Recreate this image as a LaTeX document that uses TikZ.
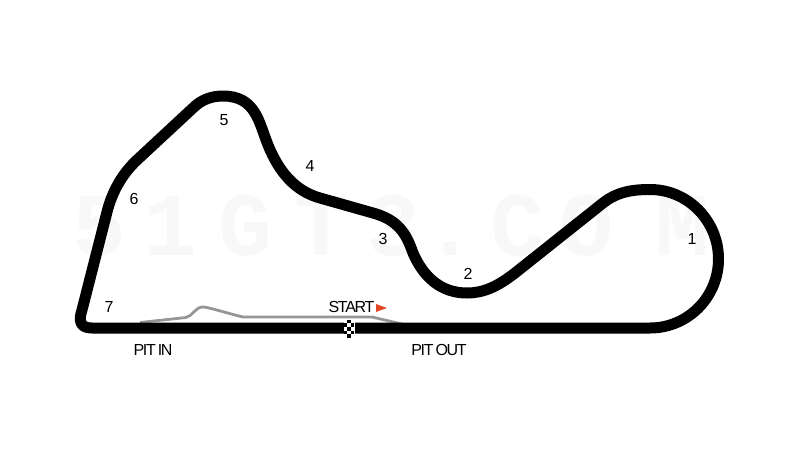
\documentclass[tikz,border=0pt]{standalone}
\usepackage{fontspec}
\setmainfont{Liberation Sans}
\newfontfamily\tightfont[LetterSpace=-8,WordSpace=0.6]{Liberation Sans}
\newfontfamily\markfont{Liberation Mono}
\definecolor{flagred}{RGB}{226,72,38}
\definecolor{pitgray}{RGB}{150,150,150}
\definecolor{markgray}{RGB}{248,248,248}
\tikzset{
	turnlabel/.style={font=\fontsize{16}{16}\selectfont,inner sep=0pt},
	textlabel/.style={font=\tightfont\fontsize{16}{16}\selectfont,inner sep=0pt},
	marklabel/.style={font=\markfont\fontsize{90}{90}\selectfont\bfseries,text=markgray,inner sep=0pt,anchor=base}
}
\begin{document}
\begin{tikzpicture}[x=1pt,y=-1pt]
	\useasboundingbox (0,0) rectangle (800,450);

	% The mark behind the track
	\foreach \ch/\xx/\nm in {5/100/a,1/171/b,G/246/c,T/322/d,3/393/e,./450/f,C/517/g,O/586/h,M/682/i}
	{
		\node[marklabel] (mark\nm) at (\xx,255) {\ch};
	}

	% The pit lane
	\draw[pitgray,line width=2.8pt,line join=round] (140,322.5) -- (186,317.5) .. controls (193,316) and (195,307) .. (203,307) .. controls (208,307) and (230,314) .. (243,317) -- (372,317) -- (406,325);

	% The track
	\draw[black,line width=11pt,line join=round] (92,328) -- (650,328)
		.. controls (688,328) and (718.5,297) .. (718.5,259)
		.. controls (718.5,221) and (688,189.5) .. (650,189.5)
		.. controls (632,189.5) and (617,192) .. (603,203)
		-- (515,273)
		.. controls (497,287) and (483,293) .. (467,293)
		.. controls (440,293) and (423,276) .. (413,253)
		.. controls (406,233) and (398,220) .. (373,213)
		-- (320,198)
		.. controls (295,191) and (279,172) .. (268,145)
		.. controls (259,123) and (256,96) .. (223,96)
		.. controls (211,96) and (201,100) .. (193,108)
		-- (137,160)
		.. controls (122,174) and (112,192) .. (107,212)
		-- (82,310)
		.. controls (78,322) and (81,328) .. (92,328) -- cycle;

	% The flag on the line
	\fill[white] (343.5,319) rectangle (354.5,338.5);
	\foreach \col/\row in {1/0,0/1,2/1,1/2,0/3,2/3,1/4}
	{
		\fill[black] (343.9+\col*3.4,319.5+\row*3.7) rectangle +(3.4,3.7);
	}

	% The labels
	\node[turnlabel] (turna) at (692,239) {1};
	\node[turnlabel] (turnb) at (468,274) {2};
	\node[turnlabel] (turnc) at (383,239) {3};
	\node[turnlabel] (turnd) at (310,166) {4};
	\node[turnlabel] (turne) at (224,120) {5};
	\node[turnlabel] (turnf) at (134,199) {6};
	\node[turnlabel] (turng) at (109,307) {7};
	\node[textlabel] (start) at (351.5,307) {START};
	\node[textlabel] (pitin) at (153,349.5) {PIT IN};
	\node[textlabel] (pitout) at (439,349.5) {PIT OUT};
	\fill[flagred] (376,304) -- (387,308) -- (376,312) -- cycle;

\end{tikzpicture}
\end{document}
